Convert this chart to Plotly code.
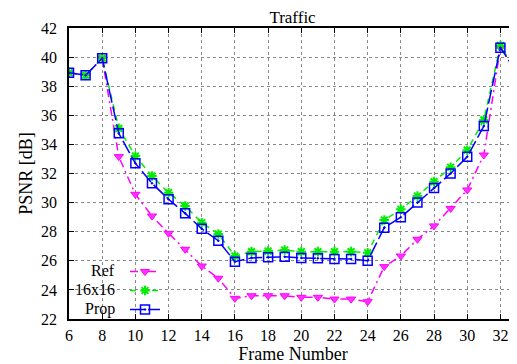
import plotly.graph_objects as go

frames = list(range(6, 34))
ref = [38.93, 38.75, 39.92, 33.16, 30.57, 29.08, 27.89, 26.79, 25.64, 24.8,
       23.42, 23.6, 23.6, 23.6, 23.49, 23.49, 23.37, 23.37, 23.19,
       25.6, 26.33, 27.48, 28.4, 29.6, 30.87, 33.27, 40.65, 38.93]
b16 = [38.93, 38.75, 39.92, 35.1, 33.2, 31.83, 30.68, 29.77, 28.62, 27.84,
       26.33, 26.63, 26.67, 26.74, 26.63, 26.63, 26.63, 26.63, 26.55,
       28.8, 29.54, 30.45, 31.44, 32.43, 33.6, 35.68, 40.8, 38.93]
prop = [38.93, 38.75, 39.92, 34.76, 32.7, 31.33, 30.23, 29.26, 28.2, 27.38,
        25.94, 26.2, 26.24, 26.28, 26.19, 26.17, 26.12, 26.12, 26.0,
        28.28, 28.99, 30.0, 31.0, 32.0, 33.15, 35.26, 40.65, 38.93]
names = ["Ref", "16x16", "Prop"]
x_ticks = list(range(6, 34, 2))
y_ticks = list(range(22, 43, 2))

FONT = "Liberation Serif, Times New Roman, serif"

fig = go.Figure()
fig.add_trace(go.Scatter(x=frames, y=ref, mode="lines+markers", name=" ",
                         line=dict(color="#ff00ff", width=1.5, dash="8px,4px,2px,4px"),
                         marker=dict(symbol="triangle-down", size=8, color="#ff33ff",
                                     line=dict(color="#ff00ff", width=1))))
fig.add_trace(go.Scatter(x=frames, y=b16, mode="lines+markers", name=" ",
                         line=dict(color="#00ee00", width=1.5, dash="6px,5px"),
                         marker=dict(symbol="asterisk-open", size=8,
                                     line=dict(color="#00ee00", width=2))))
fig.add_trace(go.Scatter(x=frames, y=prop, mode="lines+markers", name=" ",
                         line=dict(color="#0000ff", width=1.5, dash="14px,4px"),
                         marker=dict(symbol="square-open-dot", size=9,
                                     line=dict(color="#0000ff", width=1.5))))

# legend background (covers grid behind legend)
fig.add_shape(type="rect", xref="paper", yref="paper", x0=0.003, x1=0.248, y0=0.005, y1=0.205,
              fillcolor="white", line=dict(width=0), layer="between")

label_y = [0.165, 0.100, 0.034]
for nm, yy in zip(names, label_y):
    fig.add_annotation(text=nm, xref="paper", yref="paper", x=0.108, y=yy,
                       xanchor="right", yanchor="middle", showarrow=False,
                       font=dict(family=FONT, size=16, color="black"))

axis_common = dict(showline=True, linecolor="black", linewidth=1.5, mirror="allticks",
                   ticks="inside", ticklen=5, tickcolor="black", automargin=False,
                   showgrid=True, gridcolor="#888888", griddash="dot", gridwidth=1,
                   zeroline=False, tickfont=dict(family=FONT, size=16, color="black"))

# page body has an 8px margin: figure is sized/offset to fill the 517x364 window
fig.update_layout(
    width=509, height=356,
    margin=dict(l=61, r=0, t=20, b=45),
    paper_bgcolor="white", plot_bgcolor="white",
    title=dict(text="Traffic", x=0.559, xanchor="center", y=0.975, yanchor="middle",
               font=dict(family=FONT, size=17, color="black")),
    showlegend=True,
    legend=dict(x=0.125, y=0.213, xanchor="left", yanchor="top", bgcolor="rgba(0,0,0,0)",
                font=dict(family=FONT, size=9), tracegroupgap=0, itemwidth=30,
                borderwidth=0),
    font=dict(family=FONT, color="black"),
)
fig.update_xaxes(range=[6, 33], tickvals=x_ticks, ticklabelstandoff=1,
                 title=dict(text="Frame Number", font=dict(family=FONT, size=18), standoff=2),
                 **axis_common)
fig.update_yaxes(range=[22, 42], tickvals=y_ticks, ticklabelstandoff=7,
                 title=dict(text="PSNR [dB]", font=dict(family=FONT, size=18), standoff=4),
                 **axis_common)

fig.write_html("out.html")
